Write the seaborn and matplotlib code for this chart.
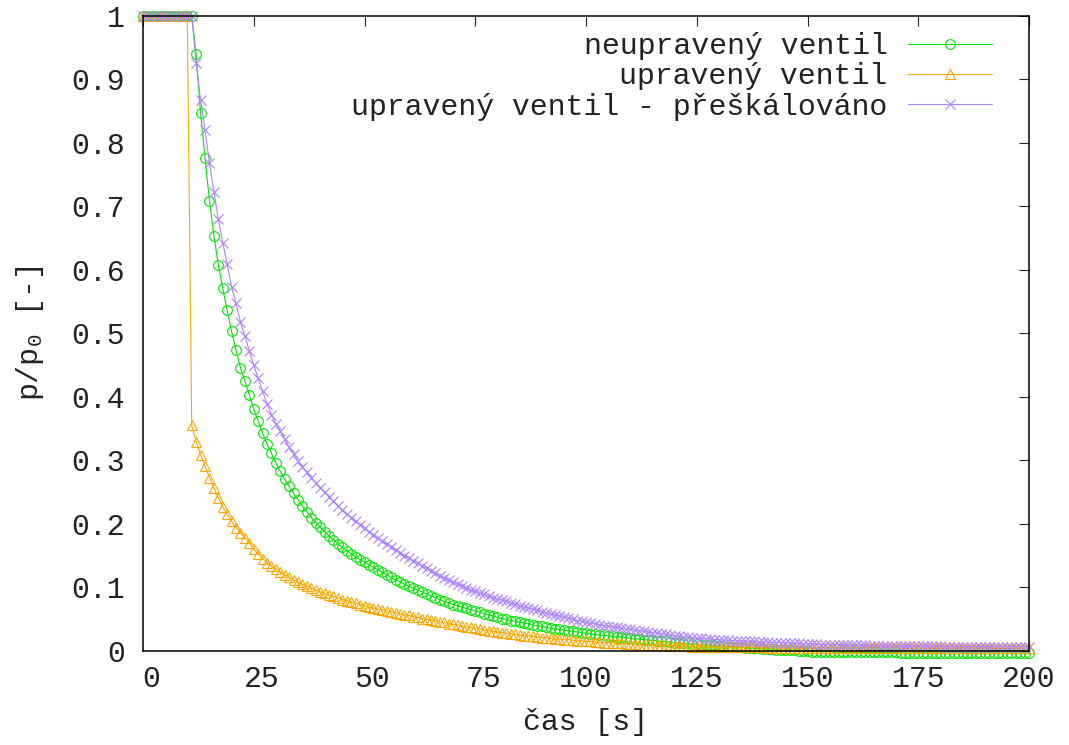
import matplotlib
matplotlib.use("Agg")
import matplotlib.pyplot as plt
from matplotlib.transforms import ScaledTranslation
import numpy as np
import pandas as pd
import seaborn as sns

# ---------------- data ----------------
cas = list(range(0, 201))

neupraveny = (
    [1.000] * 12 +
    [0.939, 0.847, 0.776, 0.709, 0.654, 0.608, 0.571, 0.536, 0.503] +
    [0.474, 0.446, 0.425, 0.403, 0.381, 0.362, 0.343, 0.326, 0.311, 0.296] +
    [0.283, 0.270, 0.259, 0.248, 0.238, 0.228, 0.219, 0.210, 0.202, 0.195] +
    [0.188, 0.181, 0.175, 0.169, 0.163, 0.158, 0.153, 0.148, 0.144, 0.140] +
    [0.136, 0.132, 0.128, 0.124, 0.120, 0.116, 0.112, 0.109, 0.105, 0.102] +
    [0.099, 0.096, 0.093, 0.090, 0.087, 0.084, 0.081, 0.078, 0.076, 0.073] +
    [0.071, 0.069, 0.067, 0.065, 0.063, 0.061, 0.059, 0.057, 0.055, 0.053] +
    [0.051, 0.050, 0.048, 0.047, 0.045, 0.044, 0.043, 0.041, 0.040, 0.039] +
    [0.037, 0.036, 0.035, 0.034, 0.033, 0.032, 0.031, 0.030, 0.029, 0.028] +
    [0.027, 0.026, 0.025, 0.025, 0.024, 0.023, 0.022, 0.022, 0.021, 0.020] +
    [0.019, 0.019, 0.018, 0.017, 0.017, 0.016, 0.015, 0.015, 0.014, 0.013] +
    [0.013, 0.012, 0.012, 0.011, 0.011, 0.010, 0.010, 0.009, 0.009, 0.008] +
    [0.008, 0.007, 0.007, 0.006, 0.006, 0.005, 0.005, 0.004, 0.004, 0.003] +
    [0.003, 0.003, 0.002, 0.002, 0.001, 0.001, 0.001, 0.000, 0.000, 0.000] +
    [-0.001, -0.001, -0.001, -0.001, -0.001, -0.002, -0.002, -0.002, -0.002, -0.002] +
    [-0.002] * 10 +
    [-0.003] * 10 +
    [-0.003] * 10 +
    [-0.003] * 10
)

upraveny = (
    [1.000] * 11 +
    [0.355, 0.329, 0.309, 0.291, 0.273, 0.257, 0.241, 0.227, 0.215, 0.204] +
    [0.194, 0.186, 0.178, 0.170, 0.160, 0.152, 0.145, 0.139, 0.134, 0.129] +
    [0.124, 0.120, 0.116, 0.112, 0.108, 0.105, 0.102, 0.099, 0.096, 0.093] +
    [0.091, 0.088, 0.086, 0.084, 0.081, 0.079, 0.077, 0.075, 0.073, 0.071] +
    [0.069, 0.068, 0.066, 0.065, 0.063, 0.062, 0.060, 0.059, 0.057, 0.056] +
    [0.054, 0.053, 0.051, 0.050, 0.049, 0.048, 0.046, 0.045, 0.043, 0.042] +
    [0.041, 0.039, 0.038, 0.037, 0.036, 0.035, 0.033, 0.032, 0.031, 0.030] +
    [0.029, 0.028, 0.027, 0.026, 0.025, 0.024, 0.024, 0.023, 0.022, 0.021] +
    [0.021, 0.020, 0.019, 0.019, 0.018, 0.018, 0.017, 0.016, 0.016, 0.015] +
    [0.015, 0.014, 0.014, 0.013, 0.013, 0.013, 0.012, 0.012, 0.011, 0.011] +
    [0.011, 0.010, 0.010, 0.010, 0.009, 0.009, 0.009, 0.009, 0.008, 0.008] +
    [0.008, 0.008, 0.008, 0.007, 0.007, 0.007, 0.007, 0.007, 0.006, 0.006] +
    [0.006] * 10 +
    [0.005] * 10 +
    [0.005] * 10 +
    [0.005] * 10 +
    [0.004] * 10 +
    [0.004] * 10 +
    [0.004] * 10
)

preskalovano = (
    [1.000] * 12 +
    [0.926, 0.868, 0.820, 0.768, 0.723, 0.680, 0.643, 0.609, 0.573] +
    [0.547, 0.518, 0.496, 0.472, 0.450, 0.429, 0.409, 0.389, 0.372, 0.358] +
    [0.346, 0.333, 0.321, 0.310, 0.299, 0.290, 0.281, 0.272, 0.265, 0.257] +
    [0.250, 0.243, 0.236, 0.229, 0.222, 0.216, 0.210, 0.204, 0.199, 0.193] +
    [0.188, 0.183, 0.178, 0.173, 0.168, 0.164, 0.159, 0.155, 0.150, 0.146] +
    [0.142, 0.138, 0.134, 0.130, 0.126, 0.122, 0.118, 0.115, 0.111, 0.108] +
    [0.105, 0.102, 0.099, 0.096, 0.094, 0.091, 0.089, 0.086, 0.084, 0.082] +
    [0.080, 0.078, 0.076, 0.074, 0.071, 0.069, 0.068, 0.066, 0.064, 0.062] +
    [0.060, 0.058, 0.057, 0.055, 0.053, 0.052, 0.050, 0.048, 0.047, 0.045] +
    [0.044, 0.043, 0.041, 0.040, 0.039, 0.038, 0.037, 0.036, 0.035, 0.034] +
    [0.033, 0.032, 0.031, 0.030, 0.029, 0.028, 0.027, 0.026, 0.025, 0.024] +
    [0.023, 0.022, 0.022, 0.021, 0.020, 0.020, 0.019, 0.019, 0.018, 0.018] +
    [0.017, 0.017, 0.016, 0.016, 0.016, 0.015, 0.015, 0.015, 0.014, 0.014] +
    [0.014, 0.013, 0.013, 0.013, 0.013, 0.012, 0.012, 0.012, 0.011, 0.011] +
    [0.011, 0.011, 0.010, 0.010, 0.010, 0.010, 0.010, 0.009, 0.009, 0.009] +
    [0.009, 0.009, 0.009, 0.008, 0.008, 0.008, 0.008, 0.008, 0.008, 0.008] +
    [0.008] * 10 +
    [0.007] * 10 +
    [0.007] * 10
)

series_labels = ["neupravený ventil", "upravený ventil",
                 "upravený ventil - přeškálováno"]
x_ticks = [0, 25, 50, 75, 100, 125, 150, 175, 200]
x_tick_labels = ["0", "25", "50", "75", "100", "125", "150", "175", "200"]
y_ticks = [0, 0.1, 0.2, 0.3, 0.4, 0.5, 0.6, 0.7, 0.8, 0.9, 1.0]
y_tick_labels = ["0", "0.1", "0.2", "0.3", "0.4", "0.5", "0.6", "0.7",
                 "0.8", "0.9", "1"]
x_title = "čas [s]"
y_title = r"p/p$_\mathregular{0}$ [-]"

# ---------------- style ----------------
sns.set_theme(style="white")
plt.rcParams["font.family"] = ["Liberation Mono", "DejaVu Sans Mono"]
plt.rcParams["mathtext.fontset"] = "custom"
plt.rcParams["mathtext.rm"] = "Liberation Mono"
plt.rcParams["mathtext.it"] = "Liberation Mono"

FS = 21.5
TXT = "#222222"
colors = ["#00e600", "#ffa500", "#ab82ff"]
markers = ["o", "^", "x"]

W, H = 1069, 745
fig = plt.figure(figsize=(W / 100, H / 100), dpi=100)
left, right, top, bottom = 143, 1029, 15.7, 651
ax = fig.add_axes([left / W, 1 - bottom / H, (right - left) / W, (bottom - top) / H])

for vals, lab, col, mk in zip([neupraveny, upraveny, preskalovano],
                              series_labels, colors, markers):
    df = pd.DataFrame({"cas": cas, "p": vals})
    sns.lineplot(data=df, x="cas", y="p", ax=ax, color=col, label=lab,
                 marker=mk, markersize=7, markerfacecolor="none",
                 markeredgecolor=col, markeredgewidth=0.8, linewidth=0.8,
                 clip_on=False, estimator=None, sort=False)

ax.set_xlim(0, 200)
ax.set_ylim(0, 1)
ax.set_xticks(x_ticks)
ax.set_xticklabels(x_tick_labels)
ax.set_yticks(y_ticks)
ax.set_yticklabels(y_tick_labels)

for s in ax.spines.values():
    s.set_color("black")
    s.set_linewidth(1.1)
    s.set_visible(True)

ax.tick_params(axis="both", which="major", direction="in", length=7,
               width=0.8, color=TXT, top=True, right=True,
               labelsize=FS, labelcolor=TXT)
ax.tick_params(axis="x", pad=10)
ax.tick_params(axis="y", pad=13)

# small rightward shift of the short x tick labels as in the reference
for lbl, txt in zip(ax.get_xticklabels(), x_tick_labels):
    if len(txt) < 3:
        lbl.set_transform(lbl.get_transform() +
                          ScaledTranslation(8 / 100, 0, fig.dpi_scale_trans))

ax.set_xlabel(x_title, fontsize=FS, color=TXT, va="center")
ax.xaxis.set_label_coords(0.5, (bottom - 722) / (bottom - top))
ax.set_ylabel(y_title, fontsize=FS, color=TXT, va="center")
ax.yaxis.set_label_coords((30 - left) / (right - left), 0.5)

leg = ax.legend(loc="upper right",
                bbox_to_anchor=((992 - left) / (right - left),
                                (bottom - 32) / (bottom - top)),
                frameon=False, markerfirst=False, fontsize=FS,
                handlelength=2.8, handletextpad=0.7, labelspacing=0.08,
                borderpad=0, borderaxespad=0)
for t in leg.get_texts():
    t.set_color(TXT)

ax.set_facecolor("white")
fig.patch.set_facecolor("white")
fig.savefig("out.png", dpi=100, facecolor="white")
